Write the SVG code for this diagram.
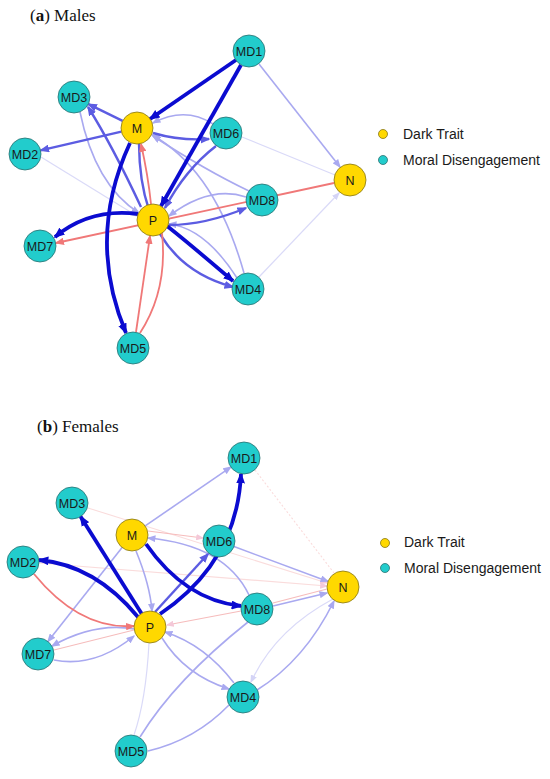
<svg xmlns="http://www.w3.org/2000/svg" width="550" height="779" viewBox="0 0 550 779">
<style>
.e{fill:none}
.d{stroke:#0b0bd0;stroke-width:3.8}
.m{stroke:#5c5ce2;stroke-width:2.4}
.l{stroke:#a9a9f0;stroke-width:1.6}
.f{stroke:#dadaf8;stroke-width:1.2}
.r{stroke:#f07878;stroke-width:1.8}
.rl{stroke:#f6bcbc;stroke-width:1.2}
.rf{stroke:#fadcdc;stroke-width:1.1}
.cy{fill:#22cccc;stroke:#2a7070;stroke-width:0.8}
.ye{fill:#ffd800;stroke:#857515;stroke-width:0.8}
.lb{font-family:"Liberation Sans",Arial,sans-serif;font-size:12.5px;fill:#1a1a1a;text-anchor:middle}
.lg{font-family:"Liberation Sans",Arial,sans-serif;font-size:14px;fill:#1a1a1a}
.tt{font-family:"Liberation Serif","Times New Roman",serif;font-size:17px;fill:#111}
</style>
<defs>
<marker id="ad" viewBox="0 0 10 8" refX="8.5" refY="4" markerWidth="11" markerHeight="9" markerUnits="userSpaceOnUse" orient="auto"><path d="M0,0 L10,4 L0,8 z" fill="#0b0bd0"/></marker>
<marker id="am" viewBox="0 0 10 8" refX="8.5" refY="4" markerWidth="10" markerHeight="8" markerUnits="userSpaceOnUse" orient="auto"><path d="M0,0 L10,4 L0,8 z" fill="#5c5ce2"/></marker>
<marker id="al" viewBox="0 0 10 8" refX="8.5" refY="4" markerWidth="9" markerHeight="7" markerUnits="userSpaceOnUse" orient="auto"><path d="M0,0 L10,4 L0,8 z" fill="#a9a9f0"/></marker>
<marker id="af" viewBox="0 0 10 8" refX="8.5" refY="4" markerWidth="8" markerHeight="6.5" markerUnits="userSpaceOnUse" orient="auto"><path d="M0,0 L10,4 L0,8 z" fill="#d4d4f6"/></marker>
<marker id="ar" viewBox="0 0 10 8" refX="8.5" refY="4" markerWidth="9.5" markerHeight="7.5" markerUnits="userSpaceOnUse" orient="auto"><path d="M0,0 L10,4 L0,8 z" fill="#f07878"/></marker>
<marker id="arl" viewBox="0 0 10 8" refX="8.5" refY="4" markerWidth="8" markerHeight="6.5" markerUnits="userSpaceOnUse" orient="auto"><path d="M0,0 L10,4 L0,8 z" fill="#f4c8d8"/></marker>
</defs>

<text class="tt" x="30" y="21">(<tspan font-weight="bold">a</tspan>) Males</text>
<text class="tt" x="37" y="432">(<tspan font-weight="bold">b</tspan>) Females</text>

<g id="connectors-males">
<path class="e f" d="M41,157 L137,216" marker-end="url(#af)"/>
<path class="e f" d="M259,277 L339,193" marker-end="url(#af)"/>
<path class="e f" d="M242,137 L335,175"/>
<path class="e l" d="M259,64 L340,167" marker-end="url(#al)"/>
<path class="e l" d="M80,112 Q95,185 139,213" marker-end="url(#al)"/>
<path class="e l" d="M246,197 Q210,185 169,216" marker-end="url(#al)"/>
<path class="e l" d="M237,278 Q205,228 169,224" marker-end="url(#al)"/>
<path class="e l" d="M244,273 Q215,170 152,135" marker-end="url(#al)"/>
<path class="e l" d="M249,191 Q205,170 153,136" marker-end="url(#al)"/>
<path class="e l" d="M213,124 Q185,106 153,123" marker-end="url(#al)"/>
<path class="e m" d="M216,146 Q185,170 165,208" marker-end="url(#am)"/>
<path class="e m" d="M153,133 Q180,141 209,139" marker-end="url(#am)"/>
<path class="e m" d="M122.6,120.9 L88.4,104.1" marker-end="url(#am)"/>
<path class="e m" d="M141,207 Q112,145 88,107" marker-end="url(#am)"/>
<path class="e m" d="M121.4,131.6 L40.6,150.4" marker-end="url(#am)"/>
<path class="e m" d="M139,144 Q140,262 233,287" marker-end="url(#am)"/>
<path class="e m" d="M169,225 Q205,225 246,208" marker-end="url(#am)"/>
<path class="e r" d="M334,183 L56,243" marker-end="url(#ar)"/>
<path class="e r" d="M151,204 Q148,175 141,144" marker-end="url(#ar)"/>
<path class="e r" d="M136,332 L150,236" marker-end="url(#ar)"/>
<path class="e r" d="M162,233 Q168,290 140,333"/>
<path class="e d" d="M236,60 L150,119" marker-end="url(#ad)"/>
<path class="e d" d="M241,65 L161,206" marker-end="url(#ad)"/>
<path class="e d" d="M130,143 Q86,238 126,333" marker-end="url(#ad)"/>
<path class="e d" d="M138,214 Q90,208 55,237" marker-end="url(#ad)"/>
<path class="e d" d="M167,226 Q185,240 233,281" marker-end="url(#ad)"/>
</g>

<g id="connectors-females">
<path class="e rf" d="M88,508 L327,583" marker-end="url(#arl)"/>
<path class="e rf" d="M39,563 L327,586" marker-end="url(#arl)"/>
<path class="e rf" d="M255,470 L334,573" stroke-dasharray="2,2"/>
<path class="e rl" d="M273,603 L327,589"/>
<path class="e rl" d="M241,611 L167,625" marker-end="url(#arl)"/>
<path class="e rl" d="M54,650 L134,630"/>
<path class="e rl" d="M148,531 L203,538" marker-end="url(#arl)"/>
<path class="e f" d="M149,643 Q146,700 134,735"/>
<path class="e f" d="M333,599 Q275,630 251,682" marker-end="url(#af)"/>
<path class="e l" d="M145.2,525.9 L230.8,467.1" marker-end="url(#al)"/>
<path class="e l" d="M122.1,547.6 L47.9,641.4" marker-end="url(#al)"/>
<path class="e l" d="M234,546.6 L328,581.4" marker-end="url(#al)"/>
<path class="e l" d="M273,606 L327,593" marker-end="url(#al)"/>
<path class="e l" d="M249,595 Q225,545 148,538" marker-end="url(#al)"/>
<path class="e l" d="M134,629 Q95,622 52,646" marker-end="url(#al)"/>
<path class="e l" d="M54,660 Q95,668 134,636" marker-end="url(#al)"/>
<path class="e l" d="M162,638 Q185,675 229,689" marker-end="url(#al)"/>
<path class="e l" d="M234,683 Q205,645 165,632" marker-end="url(#al)"/>
<path class="e l" d="M248,622 Q175,680 140,737"/>
<path class="e l" d="M229,705 Q195,740 148,751"/>
<path class="e l" d="M257,690 Q305,660 334,601" marker-end="url(#al)"/>
<path class="e l" d="M136,551 Q150,585 152,611" marker-end="url(#al)"/>
<path class="e m" d="M155,612 L208,554" marker-end="url(#am)"/>
<path class="e r" d="M34,574 Q80,630 134,626" marker-end="url(#ar)"/>
<path class="e d" d="M141.5,613.5 L80.5,516.5" marker-end="url(#ad)"/>
<path class="e d" d="M138,617 Q95,565 39,560" marker-end="url(#ad)"/>
<path class="e d" d="M160,614 Q237,562 241,474" marker-end="url(#ad)"/>
<path class="e d" d="M146,544 Q185,600 241,606" marker-end="url(#ad)"/>
</g>

<g id="males-MD1"><circle class="cy" cx="249" cy="51" r="16"/><text class="lb" x="249" y="55.5">MD1</text></g>
<g id="males-M"><circle class="ye" cx="137" cy="128" r="16"/><text class="lb" x="137" y="132.5">M</text></g>
<g id="males-MD3"><circle class="cy" cx="74" cy="97" r="16"/><text class="lb" x="74" y="101.5">MD3</text></g>
<g id="males-MD6"><circle class="cy" cx="226" cy="133" r="16"/><text class="lb" x="226" y="137.5">MD6</text></g>
<g id="males-MD2"><circle class="cy" cx="25" cy="154" r="16"/><text class="lb" x="25" y="158.5">MD2</text></g>
<g id="males-N"><circle class="ye" cx="350" cy="180" r="16"/><text class="lb" x="350" y="184.5">N</text></g>
<g id="males-MD8"><circle class="cy" cx="262" cy="200" r="16"/><text class="lb" x="262" y="204.5">MD8</text></g>
<g id="males-P"><circle class="ye" cx="153" cy="220" r="16"/><text class="lb" x="153" y="224.5">P</text></g>
<g id="males-MD7"><circle class="cy" cx="40" cy="246" r="16"/><text class="lb" x="40" y="250.5">MD7</text></g>
<g id="males-MD4"><circle class="cy" cx="248" cy="289" r="16"/><text class="lb" x="248" y="293.5">MD4</text></g>
<g id="males-MD5"><circle class="cy" cx="133" cy="348" r="16"/><text class="lb" x="133" y="352.5">MD5</text></g>

<g id="females-MD1"><circle class="cy" cx="244" cy="458" r="16"/><text class="lb" x="244" y="462.5">MD1</text></g>
<g id="females-MD3"><circle class="cy" cx="72" cy="503" r="16"/><text class="lb" x="72" y="507.5">MD3</text></g>
<g id="females-M"><circle class="ye" cx="132" cy="535" r="16"/><text class="lb" x="132" y="539.5">M</text></g>
<g id="females-MD6"><circle class="cy" cx="219" cy="541" r="16"/><text class="lb" x="219" y="545.5">MD6</text></g>
<g id="females-MD2"><circle class="cy" cx="23" cy="562" r="16"/><text class="lb" x="23" y="566.5">MD2</text></g>
<g id="females-N"><circle class="ye" cx="343" cy="587" r="16"/><text class="lb" x="343" y="591.5">N</text></g>
<g id="females-MD8"><circle class="cy" cx="257" cy="609" r="16"/><text class="lb" x="257" y="613.5">MD8</text></g>
<g id="females-P"><circle class="ye" cx="150" cy="627" r="16"/><text class="lb" x="150" y="631.5">P</text></g>
<g id="females-MD7"><circle class="cy" cx="38" cy="654" r="16"/><text class="lb" x="38" y="658.5">MD7</text></g>
<g id="females-MD4"><circle class="cy" cx="243" cy="697" r="16"/><text class="lb" x="243" y="701.5">MD4</text></g>
<g id="females-MD5"><circle class="cy" cx="131" cy="751" r="16"/><text class="lb" x="131" y="755.5">MD5</text></g>

<g id="legend-males">
<circle class="ye" cx="383" cy="134" r="4.5"/><text class="lg" x="403" y="139">Dark Trait</text>
<circle class="cy" cx="383" cy="160" r="4.5"/><text class="lg" x="403" y="165">Moral Disengagement</text>
</g>
<g id="legend-females">
<circle class="ye" cx="385" cy="543" r="4.5"/><text class="lg" x="404" y="547">Dark Trait</text>
<circle class="cy" cx="385" cy="568" r="4.5"/><text class="lg" x="404" y="573">Moral Disengagement</text>
</g>
</svg>
